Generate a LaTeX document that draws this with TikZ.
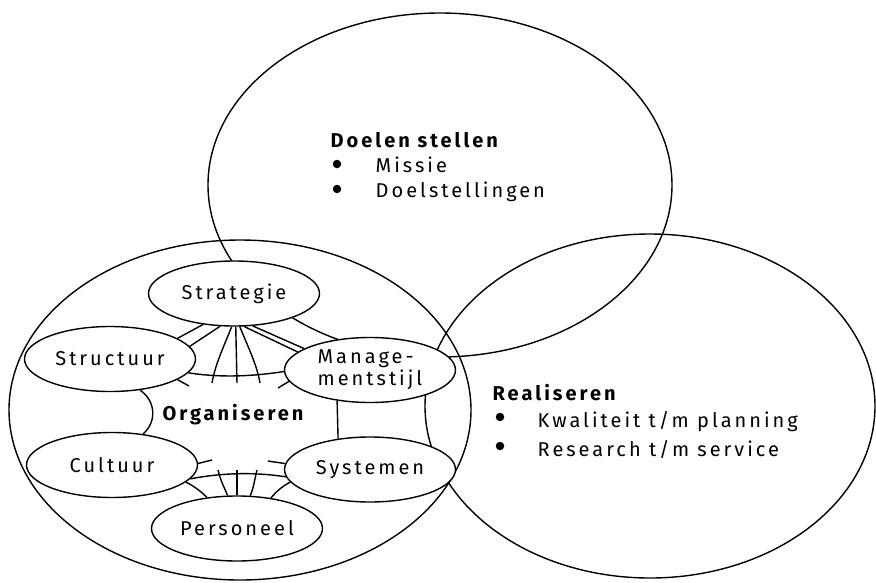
\documentclass[tikz,border=0pt]{standalone}
\usepackage{fontspec}
\setmainfont{Fira Sans}[LetterSpace=15]
\usetikzlibrary{shapes.geometric}
\begin{document}
\begin{tikzpicture}[x=1pt,y=-1pt,line width=1.4pt,
  txt/.style={font=\fontsize{20}{22}\selectfont, inner sep=0pt},
  boldtxt/.style={font=\fontsize{20}{22}\selectfont\bfseries, inner sep=0pt},
  bigring/.style={draw, ellipse, inner sep=0pt},
  elem/.style={draw, ellipse, fill=white, inner sep=0pt, minimum width=171pt, minimum height=65pt, font=\fontsize{20}{22}\selectfont},
  dot/.style={circle, fill, inner sep=0pt, minimum size=8.5pt}]
\useasboundingbox (0,0) rectangle (876,582);
% big rings
\node[bigring, minimum width=464pt, minimum height=344pt] (doel) at (440,185) {};
\node[bigring, minimum width=462pt, minimum height=340pt] (org) at (240,410) {};
\node[bigring, minimum width=450pt, minimum height=344pt] (real) at (650,406) {};
% elements
\node[elem] (strat) at (234,293.5) {Strategie};
\node[elem] (struc) at (110,359) {Structuur};
\node[elem, align=left] (mgmt) at (370,370) {Manage-\\mentstijl};
\node[elem] (cult) at (112,465) {Cultuur};
\node[elem] (syst) at (370,469.5) {Systemen};
\node[elem] (pers) at (237,528.5) {Personeel};
\node[boldtxt] (orgtxt) at (233,415) {Organiseren};
% free ends
\coordinate (sfl) at (212,383);
\coordinate (sfc) at (237,383);
\coordinate (sfr) at (260,383);
\coordinate (pfl) at (218,470);
\coordinate (pfc) at (237,470);
\coordinate (pfr) at (257,470);
\coordinate (stubSt) at (189,386);
\coordinate (stubM) at (278,388);
\coordinate (stubC) at (212,460);
\coordinate (stubSy) at (268,461);
% connectors
\draw (strat.225.5) -- (struc.17.9);
\draw (strat.247.6) -- (struc.9.5);
\draw (strat.300.1) -- (mgmt.162.35);
\draw (strat.287.6) -- (mgmt.166.9);
\draw (strat.266.4) .. controls +(-8,20) and +(3,-18) .. (sfl);
\draw (strat.273.6) -- (sfc);
\draw (strat.280.8) .. controls +(8,20) and +(-3,-18) .. (sfr);
\draw (pers.106.96) .. controls +(-4,-10) and +(3,12) .. (pfl);
\draw (pers.90) -- (pfc);
\draw (pers.68.25) .. controls +(4,-10) and +(-3,12) .. (pfr);
\draw (struc.350.5) .. controls +(32,5) and +(-32,5) .. (mgmt.181.3);
\draw (struc.314.6) .. controls +(16,11) and +(14,-12) .. (cult.45.8);
\draw (mgmt.223.7) -- (syst.136.75);
\draw (cult.350.5) .. controls +(32,-6) and +(-32,-5) .. (syst.185.2);
\draw (cult.347.96) .. controls +(8,4) and +(-6,-6) .. (pers.134.2);
\draw (syst.189.9) .. controls +(-8,4) and +(5,-6) .. (pers.42.6);
\draw (struc.343.4) -- (stubSt);
\draw (mgmt.188.6) -- (stubM);
\draw (cult.1) -- (stubC);
\draw (syst.176.9) -- (stubSy);
% texts
\node[boldtxt, anchor=base west] (doeltitel) at (330,147) {Doelen stellen};
\node[dot] (d1) at (337,164) {};
\node[txt, anchor=base west] (missie) at (375,172) {Missie};
\node[dot] (d2) at (337,189) {};
\node[txt, anchor=base west] (doelst) at (375,197) {Doelstellingen};
\node[boldtxt, anchor=base west] (realtitel) at (492,400) {Realiseren};
\node[dot] (r1) at (500,417) {};
\node[txt, anchor=base west] (kwal) at (537,427) {Kwaliteit t/m planning};
\node[dot] (r2) at (500,446) {};
\node[txt, anchor=base west] (res) at (537,456) {Research t/m service};
\end{tikzpicture}
\end{document}
